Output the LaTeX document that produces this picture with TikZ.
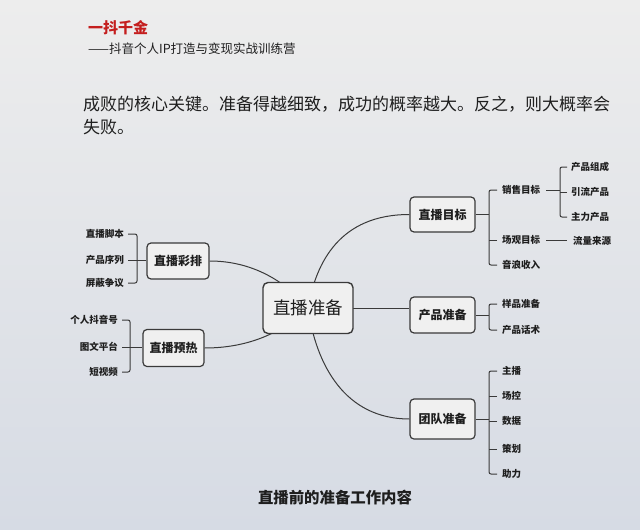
\documentclass[tikz,border=0pt]{standalone}
\usepackage{fontspec}
\setmainfont{Noto Sans CJK SC}
\usetikzlibrary{calc}
\pgfdeclarelayer{bg}
\pgfdeclarelayer{lines}
\pgfsetlayers{bg,lines,main}
\definecolor{ink}{HTML}{1E1E1E}
\definecolor{edge}{HTML}{3A3A3A}
\definecolor{hred}{HTML}{C41E1E}
\definecolor{pagetop}{HTML}{EDEDED}
\definecolor{pagebot}{HTML}{D6DBE4}
\definecolor{boxfill}{HTML}{F0F0F0}
\begin{document}
\begin{tikzpicture}[x=1pt,y=-1pt,
  txt/.style={inner sep=0pt, text=ink},
  box/.style={draw=edge, line width=1.2pt, rounded corners=4pt, fill=boxfill, text=ink,
    inner sep=0pt, minimum width=64pt, minimum height=36pt, font=\fontsize{12}{14}\selectfont\bfseries},
  mainbox/.style={draw=edge, line width=1.4pt, rounded corners=5pt, fill=boxfill, text=ink,
    inner sep=0pt, minimum width=90pt, minimum height=51pt, font=\fontsize{17.5}{20}\selectfont},
  conn/.style={draw=edge, line width=1pt},
  brk/.style={draw=edge, line width=1pt, rounded corners=2pt},
  item/.style={inner sep=0pt, text=ink, font=\fontsize{9.5}{11}\selectfont\bfseries},
]
\begin{pgfonlayer}{bg}
\shade[top color=pagetop, bottom color=pagebot] (0,0) rectangle (640,530);
\end{pgfonlayer}
\useasboundingbox (0,0) rectangle (640,530);

% header and body text
\node[txt, anchor=west, text=hred, font=\fontsize{15}{17}\selectfont\bfseries] (h1) at (88,28) {一抖千金};
\node[txt, anchor=west, font=\fontsize{12.5}{14}\selectfont] (h2) at (88,49) {——抖音个人IP打造与变现实战训练营};
\node[txt, anchor=west, font=\fontsize{17}{20}\selectfont] (b1) at (83,104) {成败的核心关键。准备得越细致，成功的概率越大。反之，则大概率会};
\node[txt, anchor=west, font=\fontsize{17}{20}\selectfont] (b2) at (83,127) {失败。};

% main boxes
\node[mainbox] (c) at (308,308) {直播准备};
\node[box, minimum width=62pt] (L1) at (178,261) {直播彩排};
\node[box, minimum width=61pt, minimum height=37pt] (L2) at (173.5,348) {直播预热};
\node[box, minimum width=65pt, minimum height=35pt] (R1) at (442.5,214.5) {直播目标};
\node[box, minimum width=65pt] (R2) at (442.5,315) {产品准备};
\node[box, minimum width=65pt, minimum height=40pt] (R3) at (442.5,419) {团队准备};

% main curves
\begin{pgfonlayer}{lines}
\draw[conn] (c.center) .. controls (316,262) and (340,214.5) .. (R1.west);
\draw[conn] (c.center) .. controls (316,365) and (345,419) .. (R3.west);
\draw[conn] (c.center) -- (R2.west |- c.center);
\draw[conn] (c.center) .. controls (280,275) and (245,261) .. (L1.east);
\draw[conn] (c.center) .. controls (280,335) and (245,348) .. (L2.east);
\end{pgfonlayer}

% left items: 直播彩排
\node[item, anchor=east] (a1) at (124,234) {直播脚本};
\node[item, anchor=east] (a2) at (124,260) {产品序列};
\node[item, anchor=east] (a3) at (124,283) {屏蔽争议};
\draw[brk] ($(a1.east)+(4,0)$) -- ($(a1.east)+(13,0)$) -- ($(a3.east)+(13,0)$) -- ($(a3.east)+(4,0)$);
\draw[conn] ($(a2.east)+(4,0)$) -- (a2.east -| L1.west);

% left items: 直播预热
\node[item, anchor=east] (p1) at (118,320) {个人抖音号};
\node[item, anchor=east] (p2) at (118,347) {图文平台};
\node[item, anchor=east] (p3) at (118,372) {短视频};
\draw[brk] ($(p1.east)+(4,0)$) -- ($(p1.east)+(12,0)$) -- ($(p3.east)+(12,0)$) -- ($(p3.east)+(4,0)$);
\draw[conn] ($(p2.east)+(4,0)$) -- (p2.east -| L2.west);

% right items: 直播目标
\node[item, anchor=west] (s1) at (502,190) {销售目标};
\node[item, anchor=west] (s2) at (502,240) {场观目标};
\node[item, anchor=west] (s3) at (502,265) {音浪收入};
\draw[brk] ($(s1.west)+(-5,0)$) -- ($(s1.west)+(-13,0)$) -- ($(s3.west)+(-13,0)$) -- ($(s3.west)+(-5,0)$);
\draw[conn] ($(s2.west)+(-5,0)$) -- ($(s2.west)+(-13,0)$);
\draw[conn] (R1.east) -- ($(R1.east -| s1.west)+(-13,0)$);

\node[item, anchor=west] (g1) at (571,167) {产品组成};
\node[item, anchor=west] (g2) at (571,192) {引流产品};
\node[item, anchor=west] (g3) at (571,217) {主力产品};
\draw[brk] ($(g1.west)+(-4,0)$) -- ($(g1.west)+(-11,0)$) -- ($(g3.west)+(-11,0)$) -- ($(g3.west)+(-4,0)$);
\draw[conn] ($(g2.west)+(-4,0)$) -- ($(g2.west)+(-11,0)$);
\draw[conn] ($(s1.east)+(6,0)$) -- ($(s1.east -| g1.west)+(-11,0)$);

\node[item, anchor=west] (f1) at (573,241) {流量来源};
\draw[conn] ($(s2.east)+(6,0)$) -- ($(s2.east -| f1.west)+(-6,0)$);

% right items: 产品准备
\node[item, anchor=west] (q1) at (502,304) {样品准备};
\node[item, anchor=west] (q2) at (502,330) {产品话术};
\draw[brk] ($(q1.west)+(-5,0)$) -- ($(q1.west)+(-13,0)$) -- ($(q2.west)+(-13,0)$) -- ($(q2.west)+(-5,0)$);
\draw[conn] (R2.east) -- ($(R2.east -| q1.west)+(-13,0)$);

% right items: 团队准备
\node[item, anchor=west] (t1) at (502,371) {主播};
\node[item, anchor=west] (t2) at (502,396) {场控};
\node[item, anchor=west] (t3) at (502,421) {数据};
\node[item, anchor=west] (t4) at (502,449) {策划};
\node[item, anchor=west] (t5) at (502,474) {助力};
\draw[brk] ($(t1.west)+(-5,0)$) -- ($(t1.west)+(-13,0)$) -- ($(t5.west)+(-13,0)$) -- ($(t5.west)+(-5,0)$);
\draw[conn] ($(t2.west)+(-5,0)$) -- ($(t2.west)+(-13,0)$);
\draw[conn] ($(t3.west)+(-5,0)$) -- ($(t3.west)+(-13,0)$);
\draw[conn] ($(t4.west)+(-5,0)$) -- ($(t4.west)+(-13,0)$);
\draw[conn] (R3.east) -- ($(R3.east -| t1.west)+(-13,0)$);

% caption
\node[txt, font=\fontsize{15.4}{18}\selectfont\bfseries] (cap) at (335,498) {直播前的准备工作内容};
\end{tikzpicture}
\end{document}
